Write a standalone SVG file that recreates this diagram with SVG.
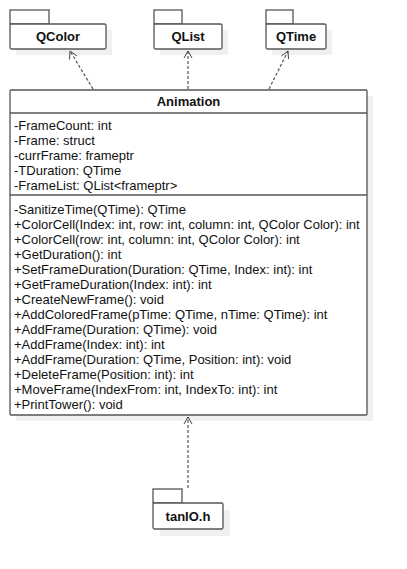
<svg xmlns="http://www.w3.org/2000/svg" width="407" height="569" viewBox="0 0 407 569">
<style>
.sh{fill:#f0f0f0}
.bx{fill:#fff;stroke:#555;stroke-width:1.3}
.t{font-family:"Liberation Sans",Arial,sans-serif;font-size:13px;fill:#111}
.b{font-weight:bold;text-anchor:middle}
.c{fill:none;stroke:#555;stroke-width:1.2;stroke-dasharray:3,2}
.h{fill:none;stroke:#444;stroke-width:1}
</style>
<rect width="407" height="569" fill="#fff"/>
<g id="QColor">
<rect class="sh" x="16" y="30" width="96" height="25"/>
<rect class="bx" x="10" y="10" width="39" height="14"/>
<rect class="bx" x="10" y="24" width="96" height="25" rx="1.5"/>
<text class="t b" x="58" y="41">QColor</text>
</g>
<g id="QList">
<rect class="sh" x="160" y="30" width="68" height="25"/>
<rect class="bx" x="154" y="10" width="28" height="14"/>
<rect class="bx" x="154" y="24" width="68" height="25" rx="1.5"/>
<text class="t b" x="188" y="41">QList</text>
</g>
<g id="QTime">
<rect class="sh" x="272" y="30" width="60" height="25"/>
<rect class="bx" x="266" y="10" width="27" height="14"/>
<rect class="bx" x="266" y="24" width="60" height="25" rx="1.5"/>
<text class="t b" x="296" y="41">QTime</text>
</g>
<g id="Animation">
<rect class="sh" x="16" y="96" width="357" height="325"/>
<rect class="bx" x="10" y="90" width="357" height="325" rx="1"/>
<line class="bx" x1="10" y1="113" x2="367" y2="113"/>
<line class="bx" x1="10" y1="195" x2="367" y2="195"/>
<text class="t b" x="188.5" y="106">Animation</text>
<text class="t" x="14" y="130">-FrameCount: int</text>
<text class="t" x="14" y="145">-Frame: struct</text>
<text class="t" x="14" y="160">-currFrame: frameptr</text>
<text class="t" x="14" y="175">-TDuration: QTime</text>
<text class="t" x="14" y="190">-FrameList: QList&lt;frameptr&gt;</text>
<text class="t" x="14" y="214">-SanitizeTime(QTime): QTime</text>
<text class="t" x="14" y="229">+ColorCell(Index: int, row: int, column: int, QColor Color): int</text>
<text class="t" x="14" y="244">+ColorCell(row: int, column: int, QColor Color): int</text>
<text class="t" x="14" y="259">+GetDuration(): int</text>
<text class="t" x="14" y="274">+SetFrameDuration(Duration: QTime, Index: int): int</text>
<text class="t" x="14" y="289">+GetFrameDuration(Index: int): int</text>
<text class="t" x="14" y="304">+CreateNewFrame(): void</text>
<text class="t" x="14" y="319">+AddColoredFrame(pTime: QTime, nTime: QTime): int</text>
<text class="t" x="14" y="334">+AddFrame(Duration: QTime): void</text>
<text class="t" x="14" y="349">+AddFrame(Index: int): int</text>
<text class="t" x="14" y="364">+AddFrame(Duration: QTime, Position: int): void</text>
<text class="t" x="14" y="379">+DeleteFrame(Position: int): int</text>
<text class="t" x="14" y="394">+MoveFrame(IndexFrom: int, IndexTo: int): int</text>
<text class="t" x="14" y="409">+PrintTower(): void</text>
</g>
<g id="tanIO.h">
<rect class="sh" x="160" y="510" width="70" height="26"/>
<rect class="bx" x="153" y="489" width="29" height="14"/>
<rect class="bx" x="153" y="503" width="70" height="26" rx="1.5"/>
<text class="t b" x="188" y="521">tanIO.h</text>
</g>
<g id="connectors">
<line class="c" x1="93" y1="89" x2="70" y2="51"/>
<polyline class="h" points="69.5,59.5 70,51 77,56"/>
<line class="c" x1="188" y1="89" x2="188" y2="51"/>
<polyline class="h" points="184,58 188,51 192,58"/>
<line class="c" x1="269" y1="89" x2="288" y2="51"/>
<polyline class="h" points="281.5,56 288,51 288.5,59"/>
<line class="c" x1="188" y1="488" x2="188" y2="417"/>
<polyline class="h" points="184,424 188,417 192,424"/>
</g>
</svg>
